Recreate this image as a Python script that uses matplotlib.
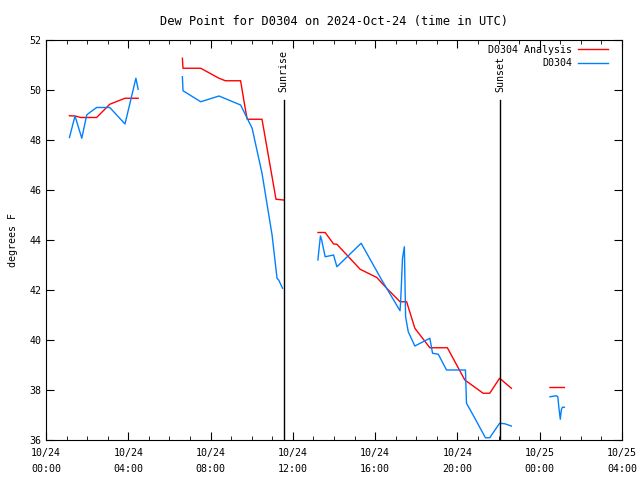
import numpy as np
import matplotlib.pyplot as plt

# hours since 2024-10-24 00:00 UTC, NaN = gap in the record
nan = np.nan
analysis_t = [1.14, 1.41, 1.69, 2.46, 3.10, 3.84, 4.48, nan,
              6.63, 6.66, 7.52, 8.41, 8.72, 9.46, 9.67, 9.78, 10.50, 11.18, 11.55, nan,
              13.22, 13.57, 13.98, 14.14, 15.27, 16.08, 16.56, 17.21, 17.53, 17.93,
              18.66, 19.51, 20.36, 21.25, 21.57, 22.05, 22.62, nan,
              24.50, 25.20]
analysis_v = [48.97, 48.96, 48.90, 48.90, 49.43, 49.67, 49.67, nan,
              51.27, 50.87, 50.87, 50.47, 50.37, 50.37, 49.33, 48.83, 48.83, 45.63, 45.60, nan,
              44.30, 44.30, 43.84, 43.83, 42.83, 42.50, 42.07, 41.53, 41.53, 40.47,
              39.69, 39.69, 38.40, 37.87, 37.87, 38.47, 38.07, nan,
              38.10, 38.10]

obs_t = [1.14, 1.41, 1.74, 1.98, 2.11, 2.46, 3.10, 3.84, 4.37, 4.48, nan,
         6.63, 6.66, 7.52, 8.41, 9.46, 9.78, 10.02, 10.50, 10.99, 11.23, 11.31, 11.50, nan,
         13.22, 13.25, 13.34, 13.40, 13.57, 13.98, 14.14, 15.32, 16.32, 17.21, 17.24,
         17.33, 17.42, 17.48, 17.61, 17.93, 18.66, 18.79, 19.07, 19.47, 20.39, 20.44,
         20.76, 21.36, 21.57, 22.05, 22.30, 22.62, nan,
         24.50, 24.80, 24.88, 24.93, 25.00, 25.05, 25.10, 25.20]
obs_v = [48.10, 48.96, 48.07, 49.00, 49.09, 49.30, 49.30, 48.64, 50.47, 50.03, nan,
         50.53, 49.97, 49.53, 49.76, 49.40, 48.87, 48.47, 46.67, 44.20, 42.47, 42.40, 42.07, nan,
         43.20, 43.47, 44.16, 44.00, 43.33, 43.40, 42.93, 43.87, 42.40, 41.17, 41.53,
         43.27, 43.73, 40.93, 40.33, 39.76, 40.07, 39.47, 39.43, 38.80, 38.80, 37.47,
         37.00, 36.09, 36.09, 36.67, 36.65, 36.56, nan,
         37.73, 37.77, 37.73, 37.31, 36.83, 37.20, 37.31, 37.31]

sunrise = 11.55
sunset = 22.07

tick_hours = [0, 4, 8, 12, 16, 20, 24, 28]
tick_labels = ['10/24\n00:00', '10/24\n04:00', '10/24\n08:00', '10/24\n12:00',
               '10/24\n16:00', '10/24\n20:00', '10/25\n00:00', '10/25\n04:00']

plt.rcParams['font.family'] = ['DejaVu Sans Mono']
plt.rcParams['font.size'] = 7.2

fig = plt.figure(figsize=(6.4, 4.8), dpi=100)
ax = fig.add_axes([46 / 640, 40 / 480, 576 / 640, 400 / 480])

ax.plot(analysis_t, analysis_v, color='#ff0000', lw=1, label='D0304 Analysis')
ax.plot(obs_t, obs_v, color='#0080ff', lw=1, label='D0304')

for t, name in [(sunrise, 'Sunrise'), (sunset, 'Sunset')]:
    ax.axvline(t, ymin=0, ymax=0.85, color='black', lw=1)
    ax.text(t, 49.9, name, rotation=90, ha='center', va='bottom')

ax.set_xlim(0, 28)
ax.set_ylim(36, 52)
ax.set_xticks(tick_hours)
ax.set_xticklabels(tick_labels, linespacing=1.7)
ax.set_xticks(np.arange(0, 29, 1), minor=True)
ax.set_yticks(np.arange(36, 53, 2))
ax.tick_params(which='both', direction='in', top=True, right=True)
ax.tick_params(which='major', length=6)
ax.tick_params(which='minor', length=3)
ax.tick_params(axis='x', pad=6)

ax.set_title('Dew Point for D0304 on 2024-Oct-24 (time in UTC)', pad=11)
ax.set_ylabel('degrees F', labelpad=8)

ax.legend(loc='upper right', frameon=False, markerfirst=False, handlelength=3.0,
          borderaxespad=0.1, borderpad=0.4, labelspacing=0.35, handletextpad=0.6,
          bbox_to_anchor=(0.985, 1.0))

fig.savefig('out.png', dpi=100)
